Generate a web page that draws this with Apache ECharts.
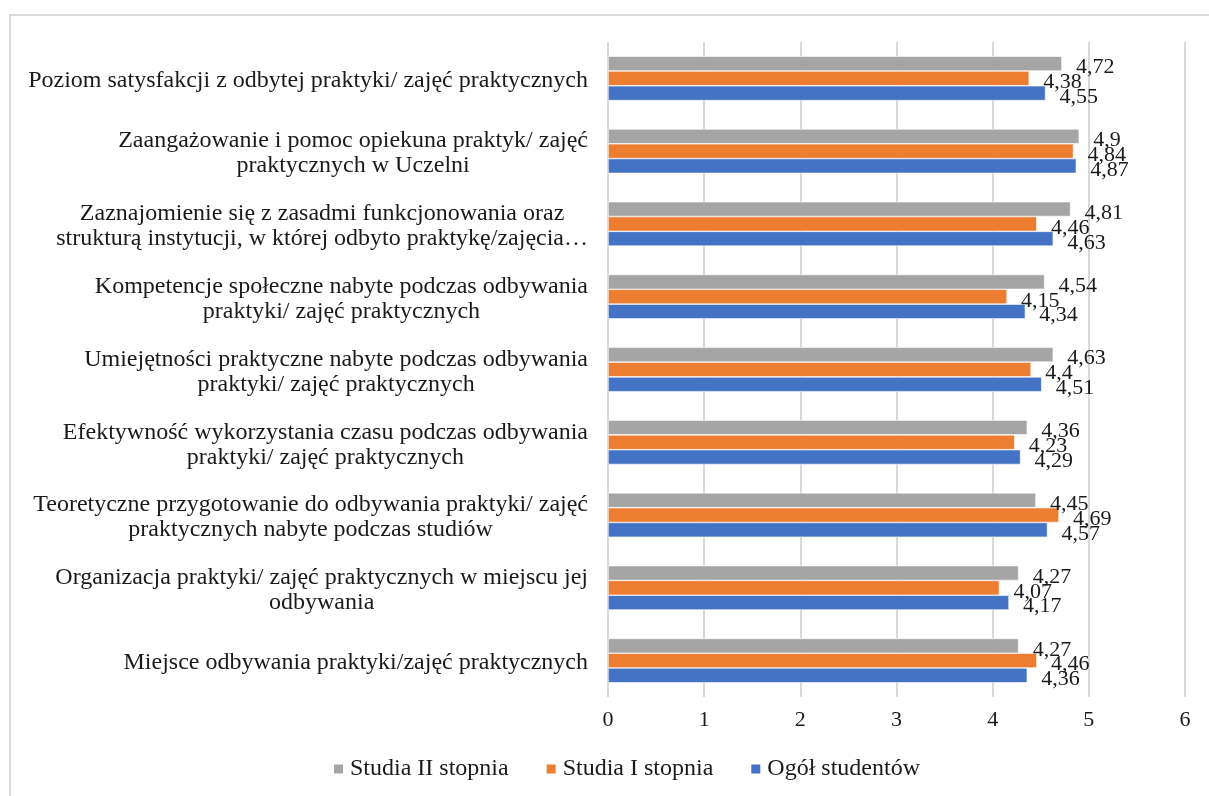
<!DOCTYPE html>
<html>
<head>
<meta charset="utf-8">
<script src="https://cdn.jsdelivr.net/npm/echarts@6/dist/echarts.min.js"></script>
<style>
html,body{margin:0;padding:0;background:#fff;}
#chart{width:1209px;height:796px;}
</style>
</head>
<body>
<div id="chart"></div>
<script>
var categories = [
  "Poziom satysfakcji z odbytej praktyki/ zajęć praktycznych",
  "Zaangażowanie i pomoc opiekuna praktyk/ zajęć\npraktycznych w Uczelni",
  "Zaznajomienie się z zasadmi funkcjonowania oraz\nstrukturą instytucji, w której odbyto praktykę/zajęcia…",
  "Kompetencje społeczne nabyte podczas odbywania\npraktyki/ zajęć praktycznych",
  "Umiejętności praktyczne nabyte podczas odbywania\npraktyki/ zajęć praktycznych",
  "Efektywność wykorzystania czasu podczas odbywania\npraktyki/ zajęć praktycznych",
  "Teoretyczne przygotowanie do odbywania praktyki/ zajęć\npraktycznych nabyte podczas studiów",
  "Organizacja praktyki/ zajęć praktycznych w miejscu jej\nodbywania",
  "Miejsce odbywania praktyki/zajęć praktycznych"
];
var seriesNames = ["Studia II stopnia", "Studia I stopnia", "Ogół studentów"];
var studiaII = [4.72, 4.9, 4.81, 4.54, 4.63, 4.36, 4.45, 4.27, 4.27];
var studiaI  = [4.38, 4.84, 4.46, 4.15, 4.4, 4.23, 4.69, 4.07, 4.46];
var ogol     = [4.55, 4.87, 4.63, 4.34, 4.51, 4.29, 4.57, 4.17, 4.36];
var xTicks = [0, 1, 2, 3, 4, 5, 6];

var colors = ["#A5A5A5", "#ED7D31", "#4472C4"];
var FONT = "Liberation Serif";

function mkSeries(name, data, color) {
  return {
    name: name,
    type: "bar",
    data: data,
    barGap: "0%",
    barCategoryGap: "39%",
    itemStyle: { color: color, borderColor: "#ffffff", borderWidth: 0.6 },
    label: {
      show: true,
      position: "right",
      distance: 14,
      offset: [0, 4],
      fontFamily: FONT,
      fontSize: 22,
      color: "#1a1a1a",
      formatter: function (p) { return String(p.value).replace(".", ","); }
    }
  };
}

var chart = echarts.init(document.getElementById("chart"));
chart.setOption({
  animation: false,
  backgroundColor: "#fff",
  color: colors,
  graphic: [{
    type: "rect",
    shape: { x: 10, y: 15, width: 1220, height: 800 },
    style: { fill: "none", stroke: "#d9d9d9", lineWidth: 2 },
    silent: true
  }],
  grid: { left: 608, right: 24, top: 42, bottom: 99, containLabel: false },
  legend: {
    bottom: 10,
    left: 327,
    itemWidth: 11,
    itemHeight: 11,
    itemGap: 36,
    icon: "rect",
    textStyle: { fontFamily: FONT, fontSize: 24, color: "#1a1a1a", padding: [0, 0, 0, 1] },
    data: seriesNames
  },
  xAxis: {
    type: "value",
    min: xTicks[0],
    max: xTicks[xTicks.length - 1],
    interval: 1,
    axisLine: { show: false },
    axisTick: { show: false },
    splitLine: { show: true, lineStyle: { color: "#d9d9d9", width: 2 } },
    axisLabel: { fontFamily: FONT, fontSize: 22, color: "#1a1a1a", margin: 12 }
  },
  yAxis: {
    type: "category",
    inverse: true,
    data: categories,
    axisLine: { show: false },
    axisTick: { show: false },
    axisLabel: {
      margin: 20,
      fontFamily: FONT,
      fontSize: 24,
      color: "#1a1a1a",
      lineHeight: 25,
      padding: [5, 0, 0, 0],
      formatter: function (v) {
        return v.split("\n").map(function (l) { return "{c|" + l + "}"; }).join("\n");
      },
      rich: { c: { align: "center", fontFamily: FONT, fontSize: 24, color: "#1a1a1a", lineHeight: 25 } }
    }
  },
  series: [
    mkSeries(seriesNames[0], studiaII, colors[0]),
    mkSeries(seriesNames[1], studiaI, colors[1]),
    mkSeries(seriesNames[2], ogol, colors[2])
  ]
});
</script>
</body>
</html>
